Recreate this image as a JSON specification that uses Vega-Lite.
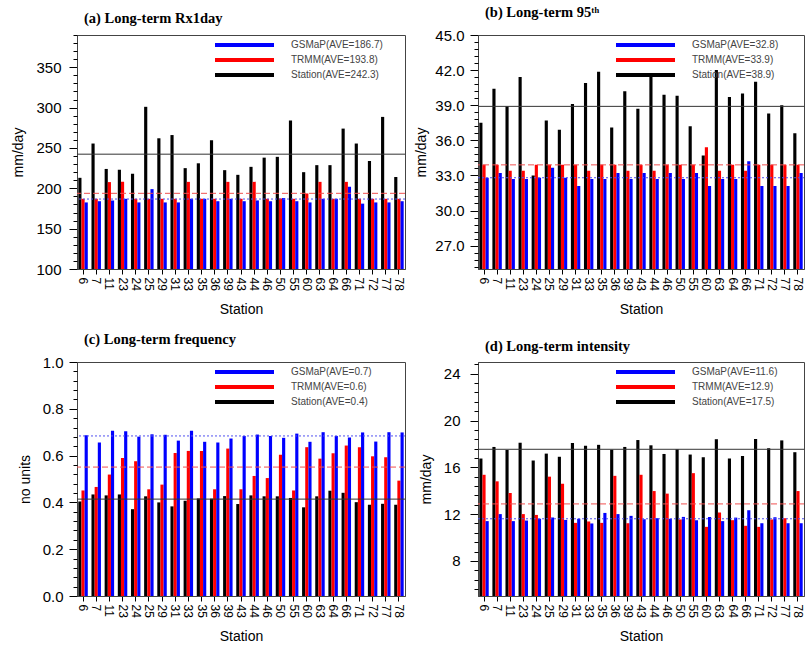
{
  "$schema": "https://vega.github.io/schema/vega-lite/v6.json",
  "background": "white",
  "padding": {"left": 11, "top": 4, "right": 2, "bottom": 2},
  "datasets": {
    "rx1day": [
      {"station": "6", "Station": 213, "TRMM": 187, "GSMaP": 182.5},
      {"station": "7", "Station": 255.5, "TRMM": 187, "GSMaP": 184},
      {"station": "11", "Station": 224, "TRMM": 207.7, "GSMaP": 185},
      {"station": "23", "Station": 223, "TRMM": 208, "GSMaP": 187},
      {"station": "24", "Station": 218, "TRMM": 187, "GSMaP": 182.5},
      {"station": "25", "Station": 301, "TRMM": 187, "GSMaP": 199},
      {"station": "29", "Station": 262, "TRMM": 187, "GSMaP": 182.5},
      {"station": "31", "Station": 266, "TRMM": 187, "GSMaP": 182.5},
      {"station": "33", "Station": 225, "TRMM": 208, "GSMaP": 187},
      {"station": "35", "Station": 231, "TRMM": 187, "GSMaP": 187},
      {"station": "36", "Station": 259.5, "TRMM": 187, "GSMaP": 184},
      {"station": "39", "Station": 222.5, "TRMM": 208, "GSMaP": 187},
      {"station": "43", "Station": 216.7, "TRMM": 187, "GSMaP": 184},
      {"station": "44", "Station": 226.6, "TRMM": 208, "GSMaP": 185},
      {"station": "46", "Station": 238, "TRMM": 187, "GSMaP": 184},
      {"station": "50", "Station": 239, "TRMM": 187.5, "GSMaP": 188},
      {"station": "55", "Station": 284, "TRMM": 187, "GSMaP": 184},
      {"station": "60", "Station": 220, "TRMM": 193.6, "GSMaP": 182.5},
      {"station": "63", "Station": 228.7, "TRMM": 208, "GSMaP": 187},
      {"station": "64", "Station": 228.7, "TRMM": 187, "GSMaP": 187},
      {"station": "66", "Station": 274, "TRMM": 208, "GSMaP": 202},
      {"station": "71", "Station": 255.5, "TRMM": 187, "GSMaP": 181},
      {"station": "72", "Station": 233.7, "TRMM": 187, "GSMaP": 182.5},
      {"station": "77", "Station": 288.5, "TRMM": 187, "GSMaP": 182.5},
      {"station": "78", "Station": 214, "TRMM": 187, "GSMaP": 184}
    ],
    "p95": [
      {"station": "6", "Station": 37.5, "TRMM": 33.9, "GSMaP": 32.8},
      {"station": "7", "Station": 40.4, "TRMM": 33.9, "GSMaP": 33.2},
      {"station": "11", "Station": 38.9, "TRMM": 33.4, "GSMaP": 32.7},
      {"station": "23", "Station": 41.4, "TRMM": 33.4, "GSMaP": 32.7},
      {"station": "24", "Station": 33.0, "TRMM": 33.9, "GSMaP": 32.8},
      {"station": "25", "Station": 37.7, "TRMM": 33.9, "GSMaP": 33.65},
      {"station": "29", "Station": 36.9, "TRMM": 33.9, "GSMaP": 32.8},
      {"station": "31", "Station": 39.1, "TRMM": 33.9, "GSMaP": 32.1},
      {"station": "33", "Station": 40.9, "TRMM": 33.4, "GSMaP": 32.7},
      {"station": "35", "Station": 41.85, "TRMM": 33.9, "GSMaP": 32.7},
      {"station": "36", "Station": 37.1, "TRMM": 33.9, "GSMaP": 33.2},
      {"station": "39", "Station": 40.2, "TRMM": 33.4, "GSMaP": 32.7},
      {"station": "43", "Station": 38.7, "TRMM": 33.9, "GSMaP": 33.2},
      {"station": "44", "Station": 41.4, "TRMM": 33.4, "GSMaP": 32.7},
      {"station": "46", "Station": 39.9, "TRMM": 33.9, "GSMaP": 33.2},
      {"station": "50", "Station": 39.8, "TRMM": 33.9, "GSMaP": 32.7},
      {"station": "55", "Station": 37.2, "TRMM": 33.9, "GSMaP": 33.2},
      {"station": "60", "Station": 34.7, "TRMM": 35.4, "GSMaP": 32.1},
      {"station": "63", "Station": 42.0, "TRMM": 33.4, "GSMaP": 32.7},
      {"station": "64", "Station": 39.7, "TRMM": 33.9, "GSMaP": 32.7},
      {"station": "66", "Station": 40.0, "TRMM": 33.4, "GSMaP": 34.2},
      {"station": "71", "Station": 41.0, "TRMM": 33.9, "GSMaP": 32.1},
      {"station": "72", "Station": 38.3, "TRMM": 33.9, "GSMaP": 32.1},
      {"station": "77", "Station": 39.0, "TRMM": 33.9, "GSMaP": 32.1},
      {"station": "78", "Station": 36.6, "TRMM": 33.9, "GSMaP": 33.2}
    ],
    "freq": [
      {"station": "6", "Station": 0.404, "TRMM": 0.451, "GSMaP": 0.687},
      {"station": "7", "Station": 0.434, "TRMM": 0.466, "GSMaP": 0.656},
      {"station": "11", "Station": 0.43, "TRMM": 0.519, "GSMaP": 0.706},
      {"station": "23", "Station": 0.434, "TRMM": 0.59, "GSMaP": 0.704},
      {"station": "24", "Station": 0.371, "TRMM": 0.576, "GSMaP": 0.681},
      {"station": "25", "Station": 0.426, "TRMM": 0.456, "GSMaP": 0.691},
      {"station": "29", "Station": 0.40, "TRMM": 0.476, "GSMaP": 0.689},
      {"station": "31", "Station": 0.383, "TRMM": 0.611, "GSMaP": 0.664},
      {"station": "33", "Station": 0.407, "TRMM": 0.62, "GSMaP": 0.706},
      {"station": "35", "Station": 0.417, "TRMM": 0.62, "GSMaP": 0.659},
      {"station": "36", "Station": 0.416, "TRMM": 0.456, "GSMaP": 0.656},
      {"station": "39", "Station": 0.427, "TRMM": 0.63, "GSMaP": 0.673},
      {"station": "43", "Station": 0.393, "TRMM": 0.456, "GSMaP": 0.684},
      {"station": "44", "Station": 0.43, "TRMM": 0.513, "GSMaP": 0.69},
      {"station": "46", "Station": 0.426, "TRMM": 0.504, "GSMaP": 0.684},
      {"station": "50", "Station": 0.426, "TRMM": 0.604, "GSMaP": 0.676},
      {"station": "55", "Station": 0.419, "TRMM": 0.451, "GSMaP": 0.694},
      {"station": "60", "Station": 0.379, "TRMM": 0.636, "GSMaP": 0.659},
      {"station": "63", "Station": 0.426, "TRMM": 0.587, "GSMaP": 0.70},
      {"station": "64", "Station": 0.45, "TRMM": 0.61, "GSMaP": 0.684},
      {"station": "66", "Station": 0.441, "TRMM": 0.643, "GSMaP": 0.677},
      {"station": "71", "Station": 0.401, "TRMM": 0.636, "GSMaP": 0.699},
      {"station": "72", "Station": 0.39, "TRMM": 0.597, "GSMaP": 0.66},
      {"station": "77", "Station": 0.394, "TRMM": 0.593, "GSMaP": 0.70},
      {"station": "78", "Station": 0.39, "TRMM": 0.493, "GSMaP": 0.699}
    ],
    "intensity": [
      {"station": "6", "Station": 16.75, "TRMM": 15.36, "GSMaP": 11.4},
      {"station": "7", "Station": 17.74, "TRMM": 14.8, "GSMaP": 12.0},
      {"station": "11", "Station": 17.48, "TRMM": 13.8, "GSMaP": 11.4},
      {"station": "23", "Station": 18.1, "TRMM": 12.0, "GSMaP": 11.45},
      {"station": "24", "Station": 16.58, "TRMM": 11.93, "GSMaP": 11.6},
      {"station": "25", "Station": 17.17, "TRMM": 15.2, "GSMaP": 11.7},
      {"station": "29", "Station": 16.9, "TRMM": 14.6, "GSMaP": 11.5},
      {"station": "31", "Station": 18.08, "TRMM": 11.25, "GSMaP": 11.6},
      {"station": "33", "Station": 17.85, "TRMM": 11.37, "GSMaP": 11.2},
      {"station": "35", "Station": 17.92, "TRMM": 11.25, "GSMaP": 12.1},
      {"station": "36", "Station": 17.5, "TRMM": 15.27, "GSMaP": 12.0},
      {"station": "39", "Station": 17.74, "TRMM": 11.22, "GSMaP": 11.85},
      {"station": "43", "Station": 18.33, "TRMM": 15.36, "GSMaP": 11.56},
      {"station": "44", "Station": 17.88, "TRMM": 13.97, "GSMaP": 11.65},
      {"station": "46", "Station": 17.14, "TRMM": 13.75, "GSMaP": 11.6},
      {"station": "50", "Station": 17.54, "TRMM": 11.54, "GSMaP": 11.76},
      {"station": "55", "Station": 17.09, "TRMM": 15.5, "GSMaP": 11.48},
      {"station": "60", "Station": 16.86, "TRMM": 10.91, "GSMaP": 11.76},
      {"station": "63", "Station": 18.4, "TRMM": 12.13, "GSMaP": 11.4},
      {"station": "64", "Station": 16.75, "TRMM": 11.48, "GSMaP": 11.7},
      {"station": "66", "Station": 16.97, "TRMM": 11.0, "GSMaP": 12.33},
      {"station": "71", "Station": 18.42, "TRMM": 10.91, "GSMaP": 11.22},
      {"station": "72", "Station": 17.63, "TRMM": 11.54, "GSMaP": 11.73},
      {"station": "77", "Station": 18.3, "TRMM": 11.65, "GSMaP": 11.22},
      {"station": "78", "Station": 17.29, "TRMM": 13.97, "GSMaP": 11.22}
    ]
  },
  "columns": 2,
  "spacing": {"row": 14, "column": 8},
  "resolve": {
    "scale": {"x": "independent", "y": "independent", "xOffset": "independent", "color": "independent"},
    "legend": {"color": "independent"}
  },
  "concat": [
    {
      "width": 328, "height": 234,
      "title": "(a) Long-term Rx1day",
      "data": {"name": "rx1day"},
      "transform": [{"fold": ["Station", "TRMM", "GSMaP"], "as": ["source", "value"]}],
      "resolve": {"axis": {"y": "independent"}},
      "layer": [
        {
          "mark": {"type": "bar", "clip": true},
          "encoding": {
            "x": {"field": "station", "type": "nominal", "sort": null, "title": "Station",
                  "scale": {"paddingInner": 0.28, "paddingOuter": 0.1}},
            "xOffset": {"field": "source", "type": "nominal", "sort": ["Station", "TRMM", "GSMaP"], "scale": {"paddingInner": 0, "paddingOuter": 0}},
            "y": {"field": "value", "type": "quantitative", "title": "mm/day",
                  "scale": {"domain": [100, 390], "nice": false, "zero": false},
                  "axis": {"orient": "left", "values": [100, 150, 200, 250, 300, 350], "titlePadding": 10, "labelPadding": 8, "tickSize": 8}},
            "color": {"field": "source", "type": "nominal", "title": null,
                      "scale": {"domain": ["GSMaP", "TRMM", "Station"], "range": ["#0000ff", "#ff0000", "#000000"]},
                      "legend": {"labelExpr": "datum.label == 'GSMaP' ? 'GSMaP(AVE=186.7)' : datum.label == 'TRMM' ? 'TRMM(AVE=193.8)' : 'Station(AVE=242.3)'"}}
          }
        },
        {"data": {"values": [{}]}, "mark": {"type": "rule", "opacity": 0}, "encoding": {"y": {"datum": 100, "axis": {"orient": "left", "values": [110,120,130,140,160,170,180,190,210,220,230,240,260,270,280,290,310,320,330,340,360,370,380,390], "labels": false, "domain": false, "title": null, "tickSize": 4}}}},
        {"data": {"values": [{}]}, "mark": {"type": "rule", "color": "#333333", "strokeWidth": 1}, "encoding": {"y": {"datum": 242.3, "axis": null}}},
        {"data": {"values": [{}]}, "mark": {"type": "rule", "color": "#f05050", "strokeWidth": 1, "strokeDash": [6, 3]}, "encoding": {"y": {"datum": 193.8, "axis": null}}},
        {"data": {"values": [{}]}, "mark": {"type": "rule", "color": "#5050f0", "strokeWidth": 1, "strokeDash": [2, 2]}, "encoding": {"y": {"datum": 186.7, "axis": null}}}
      ]
    },
    {
      "width": 326, "height": 234,
      "title": "(b) Long-term 95ᵗʰ",
      "data": {"name": "p95"},
      "transform": [{"fold": ["Station", "TRMM", "GSMaP"], "as": ["source", "value"]}],
      "resolve": {"axis": {"y": "independent"}},
      "layer": [
        {
          "mark": {"type": "bar", "clip": true},
          "encoding": {
            "x": {"field": "station", "type": "nominal", "sort": null, "title": "Station",
                  "scale": {"paddingInner": 0.28, "paddingOuter": 0.1}},
            "xOffset": {"field": "source", "type": "nominal", "sort": ["Station", "TRMM", "GSMaP"], "scale": {"paddingInner": 0, "paddingOuter": 0}},
            "y": {"field": "value", "type": "quantitative", "title": "mm/day",
                  "scale": {"domain": [25, 45], "nice": false, "zero": false},
                  "axis": {"orient": "left", "values": [27, 30, 33, 36, 39, 42, 45], "format": ".1f", "titlePadding": 6, "labelPadding": 6, "tickSize": 8}},
            "color": {"field": "source", "type": "nominal", "title": null,
                      "scale": {"domain": ["GSMaP", "TRMM", "Station"], "range": ["#0000ff", "#ff0000", "#000000"]},
                      "legend": {"labelExpr": "datum.label == 'GSMaP' ? 'GSMaP(AVE=32.8)' : datum.label == 'TRMM' ? 'TRMM(AVE=33.9)' : 'Station(AVE=38.9)'"}}
          }
        },
        {"data": {"values": [{}]}, "mark": {"type": "rule", "opacity": 0}, "encoding": {"y": {"datum": 27, "axis": {"orient": "left", "values": [25.2,25.8,26.4,27.6,28.2,28.8,29.4,30.6,31.2,31.8,32.4,33.6,34.2,34.8,35.4,36.6,37.2,37.8,38.4,39.6,40.2,40.8,41.4,42.6,43.2,43.8,44.4], "labels": false, "domain": false, "title": null, "tickSize": 4}}}},
        {"data": {"values": [{}]}, "mark": {"type": "rule", "color": "#333333", "strokeWidth": 1}, "encoding": {"y": {"datum": 38.9, "axis": null}}},
        {"data": {"values": [{}]}, "mark": {"type": "rule", "color": "#f05050", "strokeWidth": 1, "strokeDash": [6, 3]}, "encoding": {"y": {"datum": 33.9, "axis": null}}},
        {"data": {"values": [{}]}, "mark": {"type": "rule", "color": "#5050f0", "strokeWidth": 1, "strokeDash": [2, 2]}, "encoding": {"y": {"datum": 32.8, "axis": null}}}
      ]
    },
    {
      "width": 328, "height": 234,
      "title": "(c) Long-term frequency",
      "data": {"name": "freq"},
      "transform": [{"fold": ["Station", "TRMM", "GSMaP"], "as": ["source", "value"]}],
      "resolve": {"axis": {"y": "independent"}},
      "layer": [
        {
          "mark": {"type": "bar", "clip": true},
          "encoding": {
            "x": {"field": "station", "type": "nominal", "sort": null, "title": "Station",
                  "scale": {"paddingInner": 0.28, "paddingOuter": 0.1}},
            "xOffset": {"field": "source", "type": "nominal", "sort": ["Station", "TRMM", "GSMaP"], "scale": {"paddingInner": 0, "paddingOuter": 0}},
            "y": {"field": "value", "type": "quantitative", "title": "no units",
                  "scale": {"domain": [0, 1], "nice": false, "zero": false},
                  "axis": {"orient": "left", "values": [0, 0.2, 0.4, 0.6, 0.8, 1.0], "format": ".1f", "titlePadding": 10, "labelPadding": 6, "tickSize": 8}},
            "color": {"field": "source", "type": "nominal", "title": null,
                      "scale": {"domain": ["GSMaP", "TRMM", "Station"], "range": ["#0000ff", "#ff0000", "#000000"]},
                      "legend": {"labelExpr": "datum.label == 'GSMaP' ? 'GSMaP(AVE=0.7)' : datum.label == 'TRMM' ? 'TRMM(AVE=0.6)' : 'Station(AVE=0.4)'"}}
          }
        },
        {"data": {"values": [{}]}, "mark": {"type": "rule", "opacity": 0}, "encoding": {"y": {"datum": 0, "axis": {"orient": "left", "values": [0.04,0.08,0.12,0.16,0.24,0.28,0.32,0.36,0.44,0.48,0.52,0.56,0.64,0.68,0.72,0.76,0.84,0.88,0.92,0.96], "labels": false, "domain": false, "title": null, "tickSize": 4}}}},
        {"data": {"values": [{}]}, "mark": {"type": "rule", "color": "#333333", "strokeWidth": 1}, "encoding": {"y": {"datum": 0.414, "axis": null}}},
        {"data": {"values": [{}]}, "mark": {"type": "rule", "color": "#f05050", "strokeWidth": 1, "strokeDash": [6, 3]}, "encoding": {"y": {"datum": 0.551, "axis": null}}},
        {"data": {"values": [{}]}, "mark": {"type": "rule", "color": "#5050f0", "strokeWidth": 1, "strokeDash": [2, 2]}, "encoding": {"y": {"datum": 0.684, "axis": null}}}
      ]
    },
    {
      "width": 326, "height": 234,
      "title": "(d) Long-term intensity",
      "data": {"name": "intensity"},
      "transform": [{"fold": ["Station", "TRMM", "GSMaP"], "as": ["source", "value"]}],
      "resolve": {"axis": {"y": "independent"}},
      "layer": [
        {
          "mark": {"type": "bar", "clip": true},
          "encoding": {
            "x": {"field": "station", "type": "nominal", "sort": null, "title": "Station",
                  "scale": {"paddingInner": 0.28, "paddingOuter": 0.1}},
            "xOffset": {"field": "source", "type": "nominal", "sort": ["Station", "TRMM", "GSMaP"], "scale": {"paddingInner": 0, "paddingOuter": 0}},
            "y": {"field": "value", "type": "quantitative", "title": "mm/day",
                  "scale": {"domain": [5, 25], "nice": false, "zero": false},
                  "axis": {"orient": "left", "values": [8, 12, 16, 20, 24], "titlePadding": 10, "labelPadding": 10, "tickSize": 8}},
            "color": {"field": "source", "type": "nominal", "title": null,
                      "scale": {"domain": ["GSMaP", "TRMM", "Station"], "range": ["#0000ff", "#ff0000", "#000000"]},
                      "legend": {"labelExpr": "datum.label == 'GSMaP' ? 'GSMaP(AVE=11.6)' : datum.label == 'TRMM' ? 'TRMM(AVE=12.9)' : 'Station(AVE=17.5)'"}}
          }
        },
        {"data": {"values": [{}]}, "mark": {"type": "rule", "opacity": 0}, "encoding": {"y": {"datum": 8, "axis": {"orient": "left", "values": [5.6,6.4,7.2,8.8,9.6,10.4,11.2,12.8,13.6,14.4,15.2,16.8,17.6,18.4,19.2,20.8,21.6,22.4,23.2,24.8], "labels": false, "domain": false, "title": null, "tickSize": 4}}}},
        {"data": {"values": [{}]}, "mark": {"type": "rule", "color": "#333333", "strokeWidth": 1}, "encoding": {"y": {"datum": 17.54, "axis": null}}},
        {"data": {"values": [{}]}, "mark": {"type": "rule", "color": "#f05050", "strokeWidth": 1, "strokeDash": [6, 3]}, "encoding": {"y": {"datum": 12.87, "axis": null}}},
        {"data": {"values": [{}]}, "mark": {"type": "rule", "color": "#5050f0", "strokeWidth": 1, "strokeDash": [2, 2]}, "encoding": {"y": {"datum": 11.6, "axis": null}}}
      ]
    }
  ],
  "config": {
    "font": "Liberation Sans",
    "view": {"stroke": "#444444", "strokeWidth": 1},
    "title": {"font": "Liberation Serif", "fontWeight": "bold", "fontSize": 14.5, "anchor": "start", "frame": "group", "dx": 7, "offset": 8, "color": "#000000"},
    "axis": {"grid": false, "labelOverlap": false, "labelFont": "Liberation Sans", "labelFontSize": 14, "labelColor": "#000000", "titleFont": "Liberation Sans", "titleFontSize": 14, "titleFontWeight": "normal", "titleColor": "#000000", "tickColor": "#000000", "domainColor": "#444444", "labelPadding": 3},
    "axisY": {"labelFontSize": 15},
    "axisX": {"labelAngle": 90, "labelFontSize": 12, "tickSize": 5, "titlePadding": 12},
    "legend": {"orient": "none", "legendX": 135, "legendY": 1, "symbolType": "M-1,-0.07H1V0.07H-1Z", "symbolSize": 3481, "clipHeight": 14, "labelFontSize": 10, "labelColor": "#444444", "labelOffset": 16, "padding": 2, "rowPadding": 1, "symbolOpacity": 1, "symbolFillOpacity": 1}
  }
}
